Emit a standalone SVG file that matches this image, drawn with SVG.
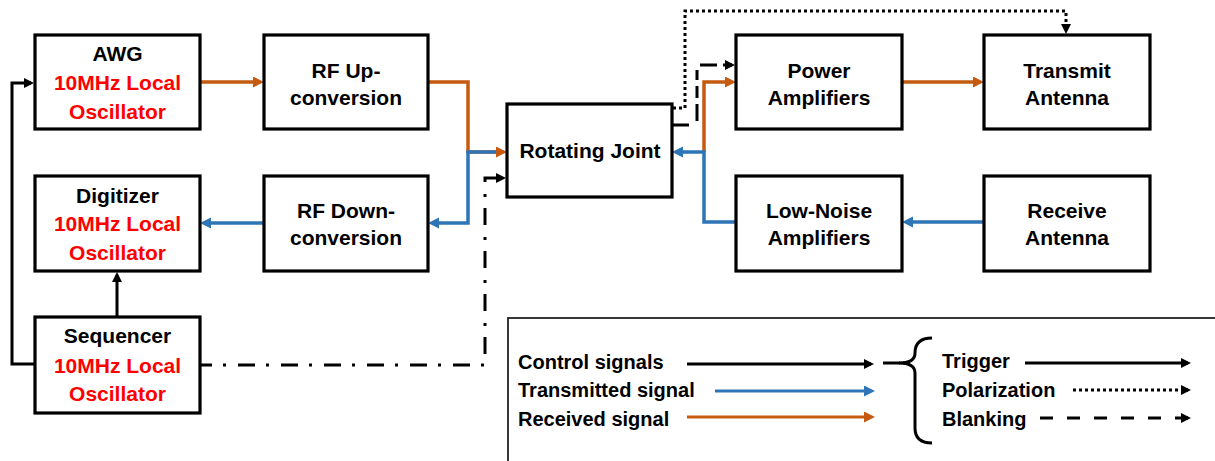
<svg xmlns="http://www.w3.org/2000/svg" width="1215" height="461" viewBox="0 0 1215 461">
<style>
.box{fill:#fff;stroke:#000;stroke-width:3.2}
.t{font-family:"Liberation Sans",Arial,sans-serif;font-weight:bold;font-size:21px;fill:#000;text-anchor:middle}
.r{fill:#ff0000}
.lg{font-family:"Liberation Sans",Arial,sans-serif;font-weight:bold;font-size:20px;fill:#000}
.k{fill:none;stroke:#000;stroke-width:3}
.o{fill:none;stroke:#C55A11;stroke-width:3.5}
.b{fill:none;stroke:#2E75B6;stroke-width:3.5}
.dot{stroke-dasharray:3 3}
.dash{stroke-dasharray:13 14}
.dd{stroke-dasharray:17 11 3 12}
</style>
<defs>
<marker id="ak" markerUnits="userSpaceOnUse" markerWidth="11" markerHeight="11" refX="7" refY="5" orient="auto"><path d="M0,0 L10,5 L0,10 z" fill="#000"/></marker>
<marker id="ao" markerUnits="userSpaceOnUse" markerWidth="12" markerHeight="12" refX="7" refY="5.5" orient="auto"><path d="M0,0 L11,5.5 L0,11 z" fill="#C55A11"/></marker>
<marker id="ab" markerUnits="userSpaceOnUse" markerWidth="12" markerHeight="12" refX="7" refY="5.5" orient="auto"><path d="M0,0 L11,5.5 L0,11 z" fill="#2E75B6"/></marker>
</defs>

<g id="connectors">
<path class="k" d="M35,364 H12 V83 H31" marker-end="url(#ak)"/>
<path class="k" d="M117,317 V275" marker-end="url(#ak)"/>
<path class="o" d="M200,82 H260" marker-end="url(#ao)"/>
<path class="o" d="M428,82 H468 V152 H503" marker-end="url(#ao)"/>
<path class="b" d="M496,152 H468 V223 H432" marker-end="url(#ab)"/>
<path class="b" d="M264,223 H204" marker-end="url(#ab)"/>
<path class="o" d="M704,152 V82 H732" marker-end="url(#ao)"/>
<path class="b" d="M736,222 H704 V152 H676" marker-end="url(#ab)"/>
<path class="o" d="M902,82 H980" marker-end="url(#ao)"/>
<path class="b" d="M984,222 H906" marker-end="url(#ab)"/>
<path class="k dot" d="M673,108 H685 V11 H1066 V31" marker-end="url(#ak)"/>
<path class="k" d="M673,125 H689"/>
<path class="k" d="M697,121 V65 H732" style="stroke-dasharray:17 6 12 6 10 8" marker-end="url(#ak)"/>
<path class="k dd" d="M200,365 H485 V178 H503" style="stroke-dashoffset:5" marker-end="url(#ak)"/>
</g>

<g id="awg"><rect class="box" x="35" y="35" width="165" height="94"/>
<text class="t" x="117.5" y="61">AWG</text><text class="t r" x="117.5" y="90">10MHz Local</text><text class="t r" x="117.5" y="119">Oscillator</text></g>
<g id="rf-up"><rect class="box" x="264" y="35" width="164" height="94"/>
<text class="t" x="346" y="78">RF Up-</text><text class="t" x="346" y="105">conversion</text></g>
<g id="rotating-joint"><rect class="box" x="507" y="104" width="165" height="93"/>
<text class="t" x="590" y="158">Rotating Joint</text></g>
<g id="power-amp"><rect class="box" x="736" y="35" width="166" height="94"/>
<text class="t" x="819" y="78">Power</text><text class="t" x="819" y="105">Amplifiers</text></g>
<g id="transmit-antenna"><rect class="box" x="984" y="35" width="166" height="94"/>
<text class="t" x="1067" y="78">Transmit</text><text class="t" x="1067" y="105">Antenna</text></g>
<g id="digitizer"><rect class="box" x="35" y="176" width="165" height="95"/>
<text class="t" x="117.5" y="203">Digitizer</text><text class="t r" x="117.5" y="231">10MHz Local</text><text class="t r" x="117.5" y="260">Oscillator</text></g>
<g id="rf-down"><rect class="box" x="264" y="176" width="164" height="95"/>
<text class="t" x="346" y="218">RF Down-</text><text class="t" x="346" y="245">conversion</text></g>
<g id="lna"><rect class="box" x="736" y="176" width="166" height="95"/>
<text class="t" x="819" y="218">Low-Noise</text><text class="t" x="819" y="245">Amplifiers</text></g>
<g id="receive-antenna"><rect class="box" x="984" y="176" width="166" height="95"/>
<text class="t" x="1067" y="218">Receive</text><text class="t" x="1067" y="245">Antenna</text></g>
<g id="sequencer"><rect class="box" x="35" y="317" width="165" height="96"/>
<text class="t" x="117.5" y="343">Sequencer</text><text class="t r" x="117.5" y="373">10MHz Local</text><text class="t r" x="117.5" y="401">Oscillator</text></g>

<g id="legend">
<rect x="508" y="318" width="720" height="200" fill="none" stroke="#222" stroke-width="1.8"/>
<text class="lg" x="518" y="369">Control signals</text>
<text class="lg" x="518" y="397">Transmitted signal</text>
<text class="lg" x="518" y="426">Received signal</text>
<path class="k" d="M687,364 H871" marker-end="url(#ak)"/>
<path class="b" style="stroke-width:3" d="M715,391 H871" marker-end="url(#ab)"/>
<path class="o" style="stroke-width:3" d="M687,417 H871" marker-end="url(#ao)"/>
<path class="k" d="M883,363 H900"/>
<path d="M932,338 Q915,338 915,353 Q915,363 899,363 Q915,363 915,373 L915,428 Q915,443 932,443" fill="none" stroke="#000" stroke-width="3"/>
<text class="lg" x="942" y="368">Trigger</text>
<text class="lg" x="942" y="397">Polarization</text>
<text class="lg" x="942" y="426">Blanking</text>
<path class="k" d="M1025,363 H1188" marker-end="url(#ak)"/>
<path class="k dot" d="M1073,390 H1188" marker-end="url(#ak)"/>
<path class="k dash" d="M1040,418 H1188" marker-end="url(#ak)"/>
</g>
</svg>
